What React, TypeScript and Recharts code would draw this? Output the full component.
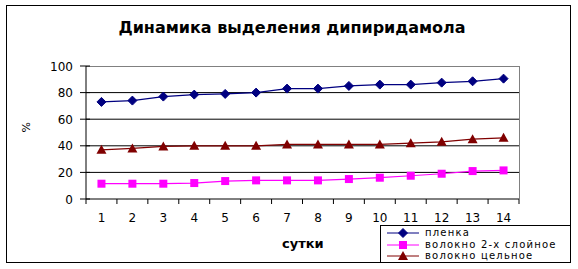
import React from 'react';
import {
  LineChart, Line, XAxis, YAxis, CartesianGrid, Legend
} from 'recharts';

// days of release
const days = [1, 2, 3, 4, 5, 6, 7, 8, 9, 10, 11, 12, 13, 14];

// % released
const film = [73, 74, 77, 78.5, 79, 80, 83, 83, 85, 86, 86, 87.5, 88.5, 90.5];
const fiberTwoLayer = [11.5, 11.5, 11.5, 12, 13.5, 14, 14, 14, 15, 16, 17.5, 19, 21, 21.5];
const fiberSolid = [37, 38, 39.5, 40, 40, 40, 41, 41, 41, 41, 42, 43, 45, 46];

const yTicks = [0, 20, 40, 60, 80, 100];

const seriesNames = ['пленка', 'волокно 2-х слойное', 'волокно цельное'];
const seriesColors = ['#000080', '#FF00FF', '#800000'];

const data = days.map((d, i) => ({
  day: d,
  film: film[i],
  fiberTwoLayer: fiberTwoLayer[i],
  fiberSolid: fiberSolid[i],
}));

const FONT = '"DejaVu Sans", Arial, sans-serif';

// chart box
const W = 578;
const H = 269;
const M = { top: 66, right: 59, bottom: 40, left: 0 };
const Y_AXIS_W = 86;
const X_AXIS_H = 30;
const PLOT_W = W - M.left - M.right - Y_AXIS_W;
const PLOT_H = H - M.top - M.bottom - X_AXIS_H;

// markers
const Marker = ({ kind, cx, cy, color }: { kind: number; cx: number; cy: number; color: string }) => {
  if (kind === 0) {
    const r = 4.5;
    return <polygon points={`${cx},${cy - r} ${cx + r},${cy} ${cx},${cy + r} ${cx - r},${cy}`} fill={color} stroke={color} />;
  }
  if (kind === 1) {
    return <rect x={cx - 4} y={cy - 4} width={8} height={8} fill={color} />;
  }
  return <polygon points={`${cx},${cy - 5} ${cx + 5},${cy + 4} ${cx - 5},${cy + 4}`} fill={color} />;
};

const makeDot = (kind: number) => (props: any) => {
  const { cx, cy, index } = props;
  return (
    <g key={`m${kind}-${index}`}>
      <Marker kind={kind} cx={cx} cy={cy} color={seriesColors[kind]} />
    </g>
  );
};

// x ticks sit between categories, labels in the middle
const XTick = (props: any) => {
  const { x, y, payload, index } = props;
  const off = Number(payload?.offset);
  const half = off > 0 ? off : PLOT_W / days.length / 2;
  const last = index === days.length - 1;
  return (
    <g>
      <path d={`M${x - half},${y}V${y + 5}`} stroke="#000" strokeWidth={1} fill="none" />
      {last && <path d={`M${x + half},${y}V${y + 5}`} stroke="#000" strokeWidth={1} fill="none" />}
      <text x={x} y={y + 23} textAnchor="middle" fontSize={12} fontFamily={FONT} fill="#000">
        {payload.value}
      </text>
    </g>
  );
};

// y ticks cross the axis
const YTick = (props: any) => {
  const { x, y, payload } = props;
  return (
    <g>
      <path d={`M${x - 6},${y}H${x + 4}`} stroke="#000" strokeWidth={1} fill="none" />
      <text x={x - 13} y={y + 4.5} textAnchor="end" fontSize={12} fontFamily={FONT} fill="#000">
        {payload.value}
      </text>
    </g>
  );
};

const LegendBox = () => (
  <div style={{ fontFamily: FONT, fontSize: 10, lineHeight: '11.7px', paddingTop: 1, letterSpacing: 1.2 }}>
    {seriesNames.map((name, i) => (
      <div key={name} style={{ display: 'flex', alignItems: 'center', height: 11.7 }}>
        <svg width={39} height={10} style={{ marginLeft: 5 }}>
          <line x1={1} y1={5} x2={33} y2={5} stroke={seriesColors[i]} strokeWidth={1} />
          <Marker kind={i} cx={17} cy={5} color={seriesColors[i]} />
        </svg>
        <span style={{ whiteSpace: 'nowrap' }}>{name}</span>
      </div>
    ))}
  </div>
);

export default function App() {
  return (
    <div style={{ position: 'absolute', left: 0, top: 0, width: W, height: H, background: '#fff' }}>
      {/* outer frame */}
      <div style={{
        position: 'absolute', left: 6, top: 5, width: 565, height: 258,
        border: '1px solid #000', boxSizing: 'border-box',
      }} />
      {/* gray top and right edge of the plot area */}
      <div style={{
        position: 'absolute', left: M.left + Y_AXIS_W, top: M.top, width: PLOT_W + 1, height: PLOT_H,
        borderTop: '1px solid #808080', borderRight: '1px solid #808080', boxSizing: 'border-box',
      }} />
      <div style={{
        position: 'absolute', left: 3, top: 18, width: W, textAlign: 'center',
        fontFamily: FONT, fontWeight: 'bold', fontSize: 16,
      }}>
        Динамика выделения дипиридамола
      </div>
      <div style={{
        position: 'absolute', left: 282, top: 236, fontFamily: FONT, fontWeight: 'bold', fontSize: 13,
      }}>
        сутки
      </div>
      <LineChart
        width={W}
        height={H}
        data={data}
        margin={M}
        style={{ position: 'absolute', left: 0, top: 0 }}
      >
        <CartesianGrid horizontal vertical={false} stroke="#000" horizontalValues={[20, 40, 60, 80]} />
        <XAxis
          dataKey="day"
          scale="band"
          height={X_AXIS_H}
          tickSize={0}
          tickMargin={0}
          tickLine={false}
          axisLine={{ stroke: '#000' }}
          tick={<XTick />}
          interval={0}
        />
        <YAxis
          width={Y_AXIS_W}
          domain={[0, 100]}
          ticks={yTicks}
          tickSize={0}
          tickMargin={0}
          tickLine={false}
          axisLine={{ stroke: '#000' }}
          tick={<YTick />}
          label={{ value: '%', angle: -90, position: 'insideLeft', offset: 26, fontSize: 11, fontFamily: FONT, fill: '#000' }}
        />
        <Line dataKey="film" name={seriesNames[0]} stroke={seriesColors[0]} strokeWidth={1.2}
          dot={makeDot(0)} activeDot={false} isAnimationActive={false} />
        <Line dataKey="fiberTwoLayer" name={seriesNames[1]} stroke={seriesColors[1]} strokeWidth={1.2}
          dot={makeDot(1)} activeDot={false} isAnimationActive={false} />
        <Line dataKey="fiberSolid" name={seriesNames[2]} stroke={seriesColors[2]} strokeWidth={1.2}
          dot={makeDot(2)} activeDot={false} isAnimationActive={false} />
        <Legend
          layout="vertical"
          align="center"
          verticalAlign="middle"
          content={<LegendBox />}
          wrapperStyle={{
            left: 380, top: 225, width: 191, height: 38, bottom: 'auto', right: 'auto',
            border: '1px solid #000', boxSizing: 'border-box', background: '#fff', overflow: 'hidden',
          }}
        />
      </LineChart>
    </div>
  );
}
